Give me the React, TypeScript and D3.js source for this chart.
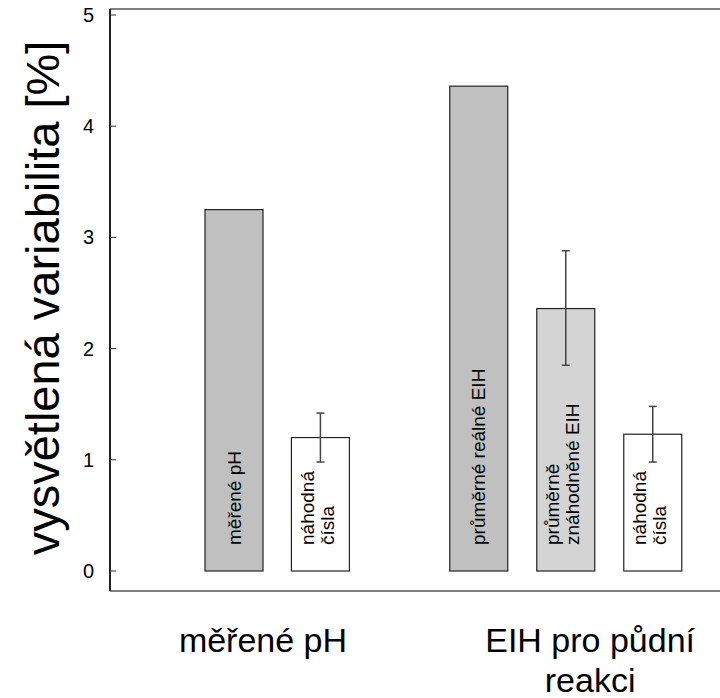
import React from "react";
import * as d3 from "d3";

// ---- data ----
const barNames = ["měřené pH", "náhodná čísla", "průměrné reálné EIH", "průměrně znáhodněné EIH", "náhodná čísla"];
const barLabelLines: string[][] = [
  ["měřené pH"],
  ["náhodná", "čísla"],
  ["průměrné reálné EIH"],
  ["průměrně", "znáhodněné EIH"],
  ["náhodná", "čísla"],
];
const barValues = [3.25, 1.2, 4.36, 2.36, 1.23];
const errLow: (number | null)[] = [null, 0.98, null, 1.85, 0.98];
const errHigh: (number | null)[] = [null, 1.42, null, 2.88, 1.48];
const barFills = ["#c0c0c0", "#ffffff", "#c0c0c0", "#d4d4d4", "#ffffff"];
const barSlots = [0, 1.49, 4.22, 5.72, 7.22];
const groupLabels: string[][] = [["měřené pH"], ["EIH pro půdní", "reakci"]];
const groupSlots = [0.5, 6.14];
const yTicks = [0, 1, 2, 3, 4, 5];
const yTitle = "vysvětlená variabilita [%]";

export default function App() {
  const W = 720, H = 698;
  const left = 110, top = 9, bottom = 591;
  const y = d3.scaleLinear().domain([0, 5]).range([571, 15]);
  const x = d3.scaleLinear().domain([0, 1]).range([234, 292]);
  const bw = 58;
  const font = "Liberation Sans, Arial, sans-serif";
  const labelY = 545;

  return (
    <svg width={W} height={H} style={{ position: "absolute", left: 0, top: 0 }} fontFamily={font}>
      <rect x={0} y={0} width={W} height={H} fill="#fff" />
      {/* frame */}
      <line x1={left} y1={top} x2={W} y2={top} stroke="#000" strokeWidth={1.2} />
      <line x1={left} y1={bottom} x2={W} y2={bottom} stroke="#000" strokeWidth={1.2} />
      <line x1={left} y1={top} x2={left} y2={bottom} stroke="#222" strokeWidth={2} />
      {/* y ticks */}
      {yTicks.map((t) => (
        <g key={t}>
          <line x1={left} x2={left + 6} y1={y(t)} y2={y(t)} stroke="#333" strokeWidth={1} />
          <text x={94} y={y(t)} textAnchor="end" dominantBaseline="central" fontSize={20} fill="#000">
            {t}
          </text>
        </g>
      ))}
      {/* y title */}
      <text
        transform={`translate(${42},${298}) rotate(-90)`}
        textAnchor="middle"
        dominantBaseline="central"
        fontSize={47}
        fill="#000"
      >
        {yTitle}
      </text>
      {/* bars */}
      {barValues.map((v, i) => {
        const cx = x(barSlots[i]);
        return (
          <g key={i}>
            <rect
              x={cx - bw / 2}
              y={y(v)}
              width={bw}
              height={y(0) - y(v)}
              fill={barFills[i]}
              stroke="#222"
              strokeWidth={1.2}
            />
            {errLow[i] != null && errHigh[i] != null && (
              <g stroke="#444" strokeWidth={1.5}>
                <line x1={cx} x2={cx} y1={y(errLow[i] as number)} y2={y(errHigh[i] as number)} />
                <line x1={cx - 4} x2={cx + 4} y1={y(errLow[i] as number)} y2={y(errLow[i] as number)} />
                <line x1={cx - 4} x2={cx + 4} y1={y(errHigh[i] as number)} y2={y(errHigh[i] as number)} />
              </g>
            )}
            {barLabelLines[i].map((ln, j) => {
              const n = barLabelLines[i].length;
              const lx = n === 1 ? cx : cx - 13 + j * 20;
              return (
                <text
                  key={j}
                  transform={`translate(${lx},${labelY}) rotate(-90)`}
                  textAnchor="start"
                  dominantBaseline="central"
                  fontSize={19}
                  fill="#000"
                >
                  {ln}
                </text>
              );
            })}
          </g>
        );
      })}
      {/* group labels */}
      {groupLabels.map((lines, g) =>
        lines.map((ln, j) => (
          <text
            key={`${g}-${j}`}
            x={x(groupSlots[g])}
            y={652 + j * 40}
            textAnchor="middle"
            fontSize={34}
            fill="#000"
          >
            {ln}
          </text>
        ))
      )}
    </svg>
  );
}
